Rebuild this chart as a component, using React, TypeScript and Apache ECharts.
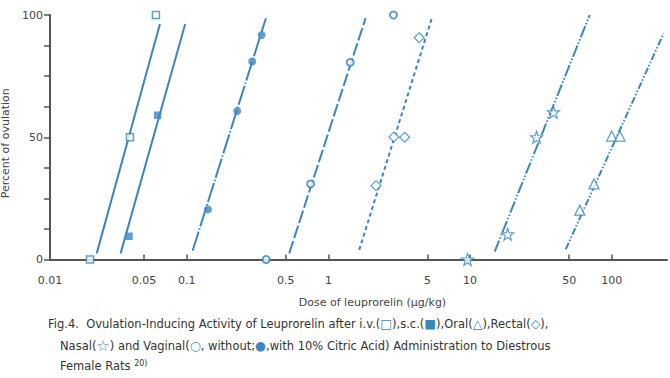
import React, { useEffect, useRef } from "react";
import * as echarts from "echarts";

// ---- data ----
const xTickValues = [0.05, 0.1, 0.5, 1, 5, 10, 50, 100];
const xAxisMin = 0.01086; // left end of the axis (labelled 0.01)
const xAxisMax = 245;
const yLabelValues = [0, 50, 100];

const ivDose = [0.0208, 0.0398, 0.0607];
const ivPct = [0, 50, 100];
const scDose = [0.0392, 0.0624];
const scPct = [9.5, 59];
const vagCaDose = [0.1413, 0.2275, 0.29, 0.338];
const vagCaPct = [20.5, 60.7, 81, 91.8];
const vagDose = [0.364, 0.749, 1.425, 2.88];
const vagPct = [0, 30.9, 80.6, 100];
const rectalDose = [2.17, 2.9, 3.45, 4.37];
const rectalPct = [30.2, 50.1, 50, 90.7];
const nasalDose = [9.59, 18.4, 29.4, 38.7];
const nasalPct = [0, 10.3, 50, 60.2];
const oralDose = [59.4, 74.9, 99.8, 114];
const oralPct = [20.2, 30.9, 50.5, 50.5];

// fitted regression lines: [dose, percent] end points
const ivLine = [[0.0232, 2.5], [0.0648, 96.3]];
const scLine = [[0.0342, 2.5], [0.0977, 96.3]];
const vagCaLine = [[0.1102, 3.6], [0.3625, 98.7]];
const vagLine = [[0.529, 2.5], [1.83, 98.7]];
const rectalLine = [[1.65, 3.9], [5.37, 98.7]];
const nasalLine = [[14.9, 3.2], [69.8, 100]];
const oralLine = [[47.3, 4.2], [232, 92.5]];

const BLUE = "#3a86c2";
const AXIS = "#555555";
const TEXT = "#444444";
const FONT = '"DejaVu Sans", sans-serif';
const STAR =
  "path://M0,-10L2.35,-3.24L9.51,-3.09L3.8,1.24L5.88,8.09L0,4L-5.88,8.09L-3.8,1.24L-9.51,-3.09L-2.35,-3.24Z";

const zip = (a: number[], b: number[]) => a.map((v, i) => [v, b[i]]);

function markers(name: string, xs: number[], ys: number[], symbol: string, size: number, filled: boolean, bw = 1.5) {
  return {
    name,
    type: "scatter",
    data: zip(xs, ys),
    symbol,
    symbolSize: size,
    z: 5,
    itemStyle: filled
      ? { color: BLUE, borderColor: BLUE, borderWidth: 0 }
      : { color: "#ffffff", borderColor: BLUE, borderWidth: bw },
  };
}

function fitLine(name: string, pts: number[][], type: any) {
  return {
    name,
    type: "line",
    data: pts,
    showSymbol: false,
    symbol: "none",
    z: 3,
    lineStyle: { color: BLUE, width: 2, type },
  };
}

export default function App() {
  const ref = useRef<HTMLDivElement>(null);
  useEffect(() => {
    if (!ref.current) return;
    const chart = echarts.init(ref.current, null, { renderer: "svg" });
    const capStyle = { fontSize: 11.5, fontFamily: FONT, fill: "#333333" };
    const rich = {
      s: { fill: BLUE, fontSize: 12.5, fontFamily: "DejaVu Sans" },
      st: { fill: BLUE, fontSize: 15, fontFamily: "DejaVu Sans" },
      b: { fill: BLUE, fontSize: 12.5, fontWeight: "bold", fontFamily: "DejaVu Sans" },
      sup: { fill: "#333333", fontSize: 8, fontFamily: FONT, verticalAlign: "top", padding: [0, 0, 6, 0] },
    };
    chart.setOption({
      animation: false,
      backgroundColor: "#ffffff",
      grid: { left: 50, right: 3, top: 15, bottom: 118.5, containLabel: false, outerBoundsMode: "none" },
      xAxis: {
        type: "log",
        logBase: 10,
        min: xAxisMin,
        max: xAxisMax,
        name: "Dose of leuprorelin (μg/kg)",
        nameLocation: "middle",
        nameGap: 37,
        nameTextStyle: { color: TEXT, fontSize: 11, fontFamily: FONT, padding: [0, 0, 0, 28] },
        axisLine: { lineStyle: { color: AXIS, width: 2 } },
        axisTick: { show: true, inside: true, length: 5, customValues: xTickValues, lineStyle: { color: AXIS, width: 1.5 } },
        axisLabel: {
          color: TEXT,
          fontSize: 11,
          fontFamily: FONT,
          margin: 15,
          customValues: [xAxisMin, ...xTickValues],
          formatter: (v: number) => (v < 0.011 ? "0.01" : String(v)),
        },
        splitLine: { show: false },
        minorTick: { show: false },
      },
      yAxis: {
        type: "value",
        min: 0,
        max: 100,
        interval: 12.5,
        name: "Percent of ovulation",
        nameLocation: "middle",
        nameGap: 33,
        nameTextStyle: { color: TEXT, fontSize: 11, fontFamily: FONT, padding: [0, 12, 0, 0] },
        axisLine: { show: true, lineStyle: { color: AXIS, width: 2 } },
        axisTick: { show: true, inside: false, length: 6, lineStyle: { color: AXIS, width: 1.5 } },
        axisLabel: {
          color: TEXT,
          fontSize: 11,
          fontFamily: FONT,
          margin: 7,
          formatter: (v: number) => (yLabelValues.includes(v) ? String(v) : ""),
        },
        splitLine: { show: false },
      },
      series: [
        fitLine("i.v. fit", ivLine, "solid"),
        fitLine("s.c. fit", scLine, "solid"),
        fitLine("Vaginal CA fit", vagCaLine, [20, 2, 1.5, 2]),
        fitLine("Vaginal fit", vagLine, [13, 3]),
        fitLine("Rectal fit", rectalLine, [4, 3]),
        fitLine("Nasal fit", nasalLine, [12, 2, 1.5, 2, 1.5, 2]),
        fitLine("Oral fit", oralLine, [7, 2, 1.5, 2, 1.5, 2]),
        markers("i.v.", ivDose, ivPct, "rect", 7, false),
        markers("s.c.", scDose, scPct, "rect", 7.5, true),
        markers("Vaginal (10% citric acid)", vagCaDose, vagCaPct, "circle", 8, true),
        markers("Vaginal", vagDose, vagPct, "circle", 7, false, 2),
        markers("Rectal", rectalDose, rectalPct, "diamond", 10, false, 1.2),
        markers("Nasal", nasalDose, nasalPct, STAR, 12, false, 1.2),
        markers("Oral", oralDose, oralPct, "triangle", 10, false, 1.3),
      ],
      graphic: [
        {
          type: "text",
          left: 48,
          top: 317,
          style: {
            ...capStyle,
            text: "Fig.4.  Ovulation-Inducing Activity of Leuprorelin after i.v.({s|□}),s.c.({s|■}),Oral({s|△}),Rectal({s|◇}),",
            rich,
          },
        },
        {
          type: "text",
          left: 60,
          top: 338,
          style: {
            ...capStyle,
            text: "Nasal({st|☆}) and Vaginal({b|○}, without;{s|●},with 10% Citric Acid) Administration to Diestrous",
            rich,
          },
        },
        {
          type: "text",
          left: 60,
          top: 359,
          style: { ...capStyle, text: "Female Rats {sup|20)}", rich },
        },
      ],
    });
    return () => chart.dispose();
  }, []);
  return (
    <div
      ref={ref}
      style={{ position: "fixed", left: 0, top: 0, width: 670, height: 378, background: "#fff" }}
    />
  );
}
